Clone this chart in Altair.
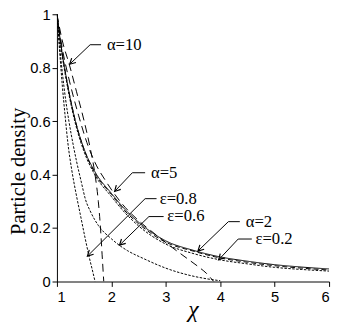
import math
import altair as alt
import pandas as pd

# ---- data ----
exact_x = [1, 1.07, 1.14, 1.24, 1.34, 1.5, 1.7, 2.0, 2.25, 2.5, 3.0, 3.5, 4.0, 4.5, 5.0, 5.5, 6.0]
exact_y = [1, 0.89, 0.8, 0.69, 0.6, 0.495, 0.41, 0.33, 0.27, 0.222, 0.152, 0.117, 0.092, 0.076, 0.063, 0.054, 0.047]

a2_x = [1, 1.07, 1.14, 1.24, 1.34, 1.5, 1.7, 2.0, 2.25, 2.5, 3.0, 3.5, 4.0, 4.5, 5.0, 5.5, 6.0]
a2_y = [1, 0.89, 0.8, 0.69, 0.6, 0.493, 0.405, 0.326, 0.264, 0.216, 0.147, 0.114, 0.088, 0.072, 0.059, 0.05, 0.043]

e02_x = [1, 1.07, 1.14, 1.24, 1.34, 1.5, 1.7, 2.0, 2.25, 2.5, 3.0, 3.5, 4.0, 4.5, 5.0, 5.5, 6.0]
e02_y = [1, 0.88, 0.79, 0.68, 0.59, 0.485, 0.398, 0.318, 0.257, 0.208, 0.14, 0.105, 0.081, 0.066, 0.053, 0.045, 0.039]

a5_x = [1, 1.1, 1.23, 1.4, 1.55, 1.7, 1.9, 2.2, 2.5, 2.8, 3.1, 3.4, 3.6, 3.75, 3.88]
a5_y = [1, 0.87, 0.75, 0.62, 0.52, 0.445, 0.375, 0.29, 0.228, 0.178, 0.13, 0.085, 0.055, 0.03, 0.0]

a10_x = [1, 1.1, 1.23, 1.36, 1.5, 1.62, 1.7, 1.76, 1.8, 1.83, 1.86]
a10_y = [1, 0.9, 0.81, 0.71, 0.6, 0.49, 0.4, 0.3, 0.2, 0.1, 0.0]

e08_x = [1, 1.05, 1.1, 1.15, 1.2, 1.27, 1.35, 1.43, 1.52, 1.6, 1.66, 1.7]
e08_y = [1, 0.86, 0.73, 0.62, 0.52, 0.42, 0.33, 0.25, 0.16, 0.085, 0.035, 0.0]

e06_x = [1, 1.05, 1.1, 1.16, 1.22, 1.3, 1.36, 1.45, 1.52, 1.62, 1.76, 2.0, 2.15, 2.3, 2.6, 3.0, 3.4, 3.7, 4.0]
e06_y = [1, 0.88, 0.78, 0.68, 0.6, 0.51, 0.45, 0.37, 0.31, 0.26, 0.21, 0.16, 0.135, 0.115, 0.085, 0.05, 0.025, 0.012, 0.003]

series = [
    ("exact", exact_x, exact_y, [1, 0]),
    ("a2", a2_x, a2_y, [5, 3]),
    ("e02", e02_x, e02_y, [2.5, 1.5]),
    ("a5", a5_x, a5_y, [8, 5]),
    ("a10", a10_x, a10_y, [8, 5]),
    ("e08", e08_x, e08_y, [2.5, 1.5]),
    ("e06", e06_x, e06_y, [2.5, 1.5]),
]

# annotations: label, text x, text y, horizontal line end x, elbow x, arrow tip x, tip y
ann_labels = ["α=10", "α=5", "ε=0.8", "ε=0.6", "α=2", "ε=0.2"]
ann_text_x = [1.9, 2.71, 2.87, 3.01, 4.45, 4.63]
ann_text_y = [0.886, 0.407, 0.31, 0.243, 0.224, 0.159]
ann_line_end_x = [1.81, 2.62, 2.83, 2.96, 4.36, 4.58]
ann_elbow_x = [1.61, 2.385, 2.62, 2.69, 4.15, 4.33]
ann_tip_x = [1.234, 2.06, 1.56, 2.15, 3.59, 3.97]
ann_tip_y = [0.813, 0.337, 0.095, 0.136, 0.114, 0.081]

x_ticks = [1, 2, 3, 4, 5, 6]
y_ticks = [0, 0.2, 0.4, 0.6, 0.8, 1]

W, H = 278, 273
sx = W / 5.0
sy = H / 1.0

xs = alt.Scale(domain=[1, 6], nice=False)
ys = alt.Scale(domain=[0, 1], nice=False)

xaxis = alt.Axis(values=x_ticks, title="χ", grid=False, domainColor="black", tickColor="black",
                 labelFont="Liberation Sans", labelFontSize=15, labelColor="black", tickSize=5,
                 titleFont="Liberation Serif", titleFontSize=24, titleFontWeight="normal",
                 titleFontStyle="italic",
                 titleColor="black", titlePadding=-6, labelPadding=3, format="d")
yaxis = alt.Axis(values=y_ticks, title="Particle density", grid=False, domainColor="black",
                 tickColor="black", labelFont="Liberation Sans", labelFontSize=15, labelColor="black",
                 tickSize=5, titleFont="Liberation Serif", titleFontSize=21, titleFontWeight="normal",
                 titleColor="black", titlePadding=1, labelPadding=2, titleY=160,
                 labelExpr="datum.value == 0 ? '0' : datum.value == 1 ? '1' : format(datum.value, '.1f')")

X = lambda: alt.X("x:Q", scale=xs, axis=xaxis)
Y = lambda: alt.Y("y:Q", scale=ys, axis=yaxis)

layers = []
for i, (name, xv, yv, dash) in enumerate(series):
    df = pd.DataFrame({"x": xv, "y": yv, "o": list(range(len(xv)))})
    layers.append(
        alt.Chart(df).mark_line(color="black", strokeWidth=1, strokeDash=dash,
                                interpolate="monotone", clip=True).encode(x=X(), y=Y(), order="o:Q")
    )

# arrow shafts
rows = []
for k in range(len(ann_labels)):
    pts = [(ann_line_end_x[k], ann_text_y[k]), (ann_elbow_x[k], ann_text_y[k]), (ann_tip_x[k], ann_tip_y[k])]
    for j, (px, py) in enumerate(pts):
        rows.append({"id": k, "o": j, "x": px, "y": py})
shaft_df = pd.DataFrame(rows)
layers.append(
    alt.Chart(shaft_df).mark_line(color="black", strokeWidth=1).encode(
        x=X(), y=Y(), detail="id:N", order="o:Q")
)

# arrow heads
heads = []
for k in range(len(ann_labels)):
    dx = (ann_tip_x[k] - ann_elbow_x[k]) * sx
    dy = -(ann_tip_y[k] - ann_text_y[k]) * sy
    ang = math.degrees(math.atan2(dx, -dy)) % 360
    heads.append({"x": ann_tip_x[k], "y": ann_tip_y[k], "ang": ang})
head_df = pd.DataFrame(heads)
layers.append(
    alt.Chart(head_df).mark_point(shape="M -0.7 1.3 L 0 0 L 0.7 1.3", filled=False, stroke="black",
                                  strokeWidth=1.2, size=80, opacity=1).encode(
        x=X(), y=Y(), angle=alt.Angle("ang:Q", scale=None))
)

# labels
lab_df = pd.DataFrame({"x": ann_text_x, "y": ann_text_y, "t": ann_labels})
layers.append(
    alt.Chart(lab_df).mark_text(align="left", baseline="middle", font="Liberation Serif",
                                fontSize=17, color="black", dx=1).encode(
        x=X(), y=Y(), text="t:N")
)

chart = alt.layer(*layers).properties(
    width=W, height=H,
    autosize=alt.AutoSizeParams(type="none"),
    padding={"left": 50, "top": 3, "right": 4, "bottom": 40},
    background="white",
).configure_view(stroke=None)

chart.save("out.html", embed_options={"renderer": "svg", "actions": False})
